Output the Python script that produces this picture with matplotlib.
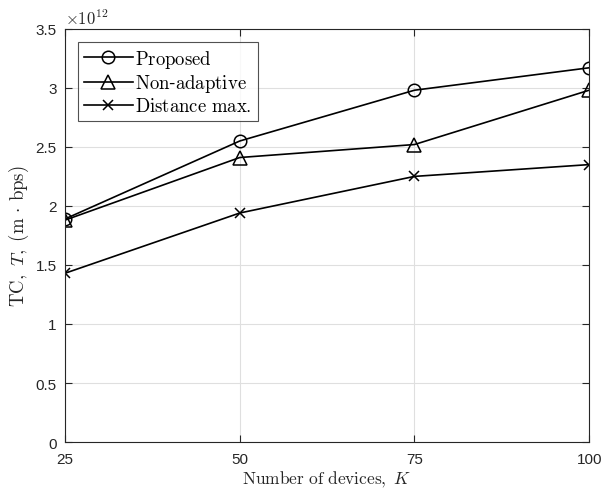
import numpy as np
import matplotlib
matplotlib.use("Agg")
import matplotlib.pyplot as plt

plt.rcParams['mathtext.fontset'] = 'cm'
plt.rcParams['font.family'] = ['Liberation Sans', 'DejaVu Sans']

K = [25, 50, 75, 100]
proposed = [1.89, 2.55, 2.98, 3.17]
non_adaptive = [1.88, 2.41, 2.52, 2.98]
distance_max = [1.43, 1.94, 2.25, 2.35]
scale = 1e12

fig = plt.figure(figsize=(6.03, 4.89), dpi=100)
ax = fig.add_axes([0.108, 0.094, 0.869, 0.845])

ax.plot(K, np.array(proposed) * scale, 'k-o', mfc='none', ms=9, lw=1.2, mew=1.1,
        label=r'$\mathrm{Proposed}$')
ax.plot(K, np.array(non_adaptive) * scale, 'k-^', mfc='none', ms=10, lw=1.2, mew=1.1,
        label=r'$\mathrm{Non}$-$\mathrm{adaptive}$')
ax.plot(K, np.array(distance_max) * scale, 'k-x', ms=7, lw=1.2, mew=1.1,
        label=r'$\mathrm{Distance\ max.}$')

ax.set_xlim(25, 100)
ax.set_ylim(0, 3.5e12)
ax.set_xticks(K)
ax.set_yticks(np.arange(0, 3.51e12, 0.5e12))
ax.set_yticklabels(['0', '0.5', '1', '1.5', '2', '2.5', '3', '3.5'])
ax.grid(True, color='#dfdfdf', lw=0.8)
ax.set_axisbelow(True)
ax.tick_params(direction='in', labelsize=11, colors='#262626', length=5, top=True, right=True)
ax.tick_params(axis='x', pad=7)
ax.tick_params(axis='y', pad=6)
for s in ax.spines.values():
    s.set_color('#262626')
    s.set_linewidth(0.8)

ax.text(0, 1.005, r'$\mathsf{\times 10^{12}}$', transform=ax.transAxes, fontsize=12,
        color='#262626', va='bottom', ha='left')

ax.set_xlabel(r'$\mathrm{Number\ of\ devices,}\ K$', fontsize=12.5, color='#262626', labelpad=2)
ax.set_ylabel(r'$\mathrm{TC,}\ T,\ (\mathrm{m}\,\cdot\,\mathrm{bps})$', fontsize=13.5,
              color='#262626', labelpad=3)

leg = ax.legend(loc='upper left', fontsize=13.5, frameon=True, fancybox=False,
                edgecolor='#262626', borderaxespad=0.7, handlelength=2.6,
                handletextpad=0.15, labelspacing=0.15, borderpad=0.3)
leg.get_frame().set_linewidth(0.8)

fig.savefig('out.png', dpi=100)
